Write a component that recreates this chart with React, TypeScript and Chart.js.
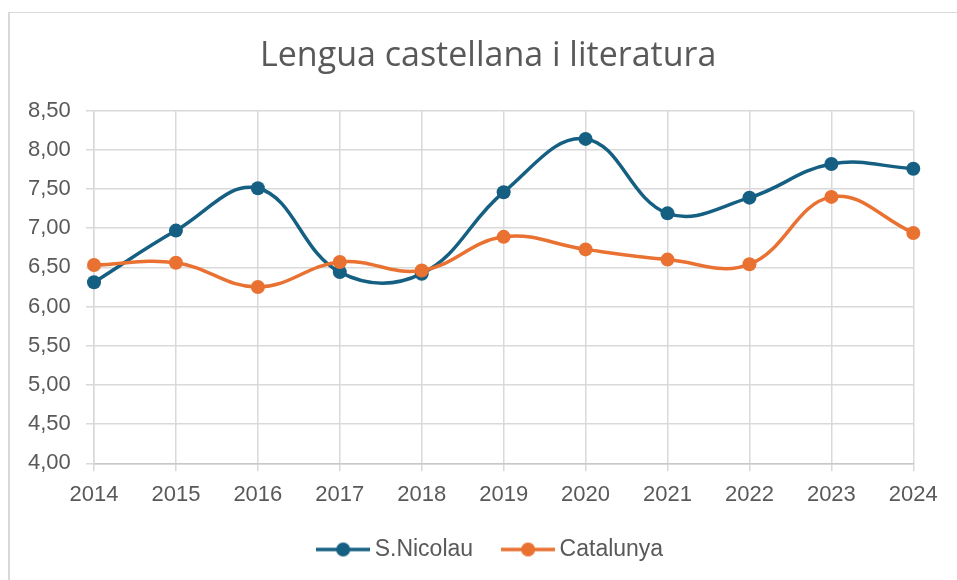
import React, { useEffect, useRef } from "react";
import { Chart, registerables } from "chart.js";

Chart.register(...registerables);

// ---- data ----
const years = ["2014", "2015", "2016", "2017", "2018", "2019", "2020", "2021", "2022", "2023", "2024"];
const sNicolau = [6.31, 6.97, 7.51, 6.44, 6.42, 7.46, 8.14, 7.19, 7.39, 7.82, 7.76];
const catalunya = [6.53, 6.56, 6.25, 6.57, 6.46, 6.89, 6.73, 6.6, 6.54, 7.4, 6.94];
const seriesNames = ["S.Nicolau", "Catalunya"];
const chartTitle = "Lengua castellana i literatura";
const yMin = 4;
const yMax = 8.5;
const yStep = 0.5;

const colors = ["#156082", "#E97132"];
const textColor = "#595959";
const gridColor = "#d9d9d9";
const tickFont = '"Liberation Sans", Arial, sans-serif';

function makeMarker(color: string): HTMLCanvasElement {
  const c = document.createElement("canvas");
  c.width = 54;
  c.height = 16;
  const ctx = c.getContext("2d")!;
  ctx.strokeStyle = color;
  ctx.lineWidth = 3.5;
  ctx.beginPath();
  ctx.moveTo(0, 8);
  ctx.lineTo(54, 8);
  ctx.stroke();
  ctx.fillStyle = color;
  ctx.beginPath();
  ctx.arc(27, 8, 7, 0, Math.PI * 2);
  ctx.fill();
  return c;
}

const shiftLegend = {
  id: "shiftLegend",
  afterLayout(chart: any) {
    if (chart.legend) {
      chart.legend.left += 5;
      chart.legend.right += 5;
    }
  },
};

export default function App() {
  const canvasRef = useRef<HTMLCanvasElement | null>(null);

  useEffect(() => {
    if (!canvasRef.current) return;
    const markers = colors.map(makeMarker);
    const chart = new Chart(canvasRef.current, {
      type: "line",
      data: {
        labels: years,
        datasets: [
          {
            label: seriesNames[0],
            data: sNicolau,
            borderColor: colors[0],
            backgroundColor: colors[0],
            pointBackgroundColor: colors[0],
            pointBorderWidth: 0,
            pointRadius: 7,
            borderWidth: 3.5,
            tension: 0.4,
            clip: false,
            order: 1,
          },
          {
            label: seriesNames[1],
            data: catalunya,
            borderColor: colors[1],
            backgroundColor: colors[1],
            pointBackgroundColor: colors[1],
            pointBorderWidth: 0,
            pointRadius: 7,
            borderWidth: 3.5,
            tension: 0.4,
            clip: false,
            order: 0,
          },
        ],
      },
      plugins: [shiftLegend],
      options: {
        responsive: false,
        animation: false,
        devicePixelRatio: 1,
        layout: { padding: { left: 63, right: 43.7, top: 0, bottom: 9 } },
        plugins: {
          title: {
            display: true,
            text: chartTitle,
            color: textColor,
            font: { family: '"Open Sans", sans-serif', size: 34, weight: "normal", lineHeight: 1.2 },
            padding: { top: 36.3, bottom: 33.6 },
          },
          legend: {
            display: true,
            position: "bottom",
            labels: {
              usePointStyle: true,
              pointStyleWidth: 40,
              padding: 35,
              color: textColor,
              font: { family: tickFont, size: 23 },
              generateLabels: (ch: any) =>
                ch.data.datasets.map((ds: any, i: number) => ({
                  text: ds.label,
                  pointStyle: markers[i],
                  fillStyle: colors[i],
                  strokeStyle: colors[i],
                  fontColor: textColor,
                  lineWidth: 0,
                  hidden: false,
                  datasetIndex: i,
                })),
            },
          },
          tooltip: { enabled: false },
        },
        scales: {
          x: {
            type: "category",
            offset: false,
            grid: { color: gridColor, lineWidth: 1.5, tickLength: 8, drawTicks: true },
            border: { color: "#c8c8c8", width: 1.5 },
            ticks: {
              color: textColor,
              font: { family: tickFont, size: 22 },
              padding: 10,
              maxRotation: 0,
              autoSkip: false,
            },
            afterFit: (s: any) => {
              s.height = 39.7;
            },
          },
          y: {
            min: yMin,
            max: yMax,
            grid: { color: gridColor, lineWidth: 1.5, tickLength: 8 },
            border: { color: gridColor, width: 1.5 },
            ticks: {
              stepSize: yStep,
              color: textColor,
              font: { family: tickFont, size: 22 },
              mirror: true,
              crossAlign: "far",
              padding: -66,
              callback: (v: any) => Number(v).toFixed(2).replace(".", ","),
            },
            afterFit: (s: any) => {
              s.width = 31;
            },
          },
        },
      },
    });
    return () => chart.destroy();
  }, []);

  return (
    <div style={{ position: "fixed", left: 0, top: 0, width: 957, height: 580, background: "#ffffff", overflow: "hidden" }}>
      <div
        style={{
          position: "absolute",
          left: 8,
          top: 12,
          width: 970,
          height: 600,
          borderTop: "1px solid #d9d9d9",
          borderLeft: "2px solid #d9d9d9",
          boxSizing: "border-box",
        }}
      />
      <canvas ref={canvasRef} width={957} height={580} style={{ position: "absolute", left: 0, top: 0 }} />
    </div>
  );
}
